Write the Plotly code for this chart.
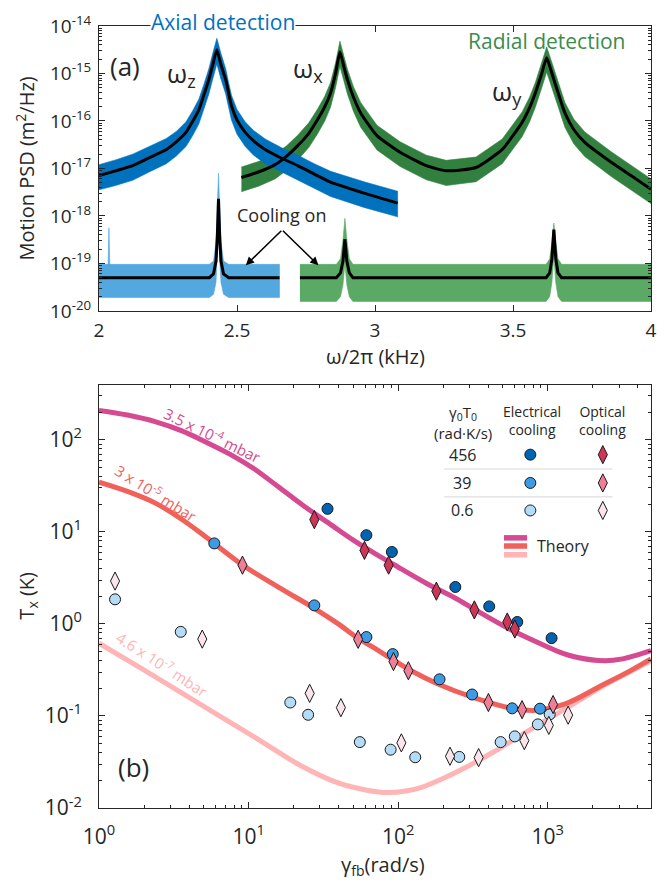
import plotly.graph_objects as go

FONT = "Open Sans"
INK = "#262626"

# ---------------- (a) spectra: frequency (kHz), values = log10 PSD (m^2/Hz) ----------------
axial_hot_f = [2.000, 2.060, 2.122, 2.180, 2.244, 2.280, 2.315, 2.340, 2.362, 2.380, 2.398, 2.412, 2.427,
               2.442, 2.459, 2.470, 2.480, 2.500, 2.530, 2.560, 2.602, 2.660, 2.720, 2.780, 2.839, 2.960, 3.082]
axial_hot_fit = [-17.15, -17.05, -16.94, -16.78, -16.60, -16.44, -16.24, -16.00, -15.76, -15.45, -15.13, -14.82, -14.50,
                 -14.82, -15.13, -15.42, -15.68, -15.98, -16.24, -16.42, -16.60, -16.78, -16.94, -17.12, -17.29, -17.52, -17.73]
axial_hot_up = [-16.92, -16.82, -16.70, -16.55, -16.37, -16.22, -16.02, -15.78, -15.54, -15.23, -14.90, -14.58, -14.26,
                -14.58, -14.90, -15.20, -15.46, -15.76, -16.02, -16.20, -16.38, -16.56, -16.72, -16.90, -17.06, -17.28, -17.48]
axial_hot_lo = [-17.45, -17.36, -17.25, -17.08, -16.90, -16.74, -16.54, -16.30, -16.06, -15.75, -15.43, -15.12, -14.80,
                -15.12, -15.43, -15.72, -15.98, -16.28, -16.54, -16.72, -16.90, -17.08, -17.24, -17.42, -17.59, -17.82, -18.02]

radial_hot_f = [2.516, 2.580, 2.638, 2.680, 2.720, 2.760, 2.792, 2.818, 2.839, 2.857, 2.873, 2.887, 2.900, 2.922,
                2.948, 3.007, 3.091, 3.186, 3.258, 3.366, 3.461, 3.533, 3.560, 3.581, 3.603, 3.622, 3.637, 3.652,
                3.688, 3.720, 3.760, 3.856, 3.930, 4.000]
radial_hot_fit = [-17.19, -17.07, -16.92, -16.74, -16.52, -16.26, -15.97, -15.70, -15.41, -15.00, -14.55, -14.85, -15.13,
                  -15.50, -15.83, -16.31, -16.66, -16.94, -17.05, -16.98, -16.60, -16.03, -15.72, -15.41, -15.02, -14.67,
                  -14.92, -15.20, -15.83, -16.18, -16.45, -16.87, -17.16, -17.44]
radial_hot_up = [-16.97, -16.85, -16.70, -16.52, -16.30, -16.04, -15.75, -15.48, -15.19, -14.78, -14.32, -14.62, -14.91,
                 -15.28, -15.61, -16.09, -16.44, -16.72, -16.83, -16.76, -16.38, -15.81, -15.50, -15.19, -14.80, -14.44,
                 -14.70, -14.98, -15.61, -15.96, -16.23, -16.65, -16.94, -17.22]
radial_hot_lo = [-17.49, -17.37, -17.22, -17.04, -16.82, -16.56, -16.27, -16.00, -15.71, -15.30, -14.85, -15.15, -15.43,
                 -15.80, -16.13, -16.61, -16.96, -17.24, -17.36, -17.28, -16.90, -16.33, -16.02, -15.71, -15.32, -14.97,
                 -15.22, -15.50, -16.13, -16.48, -16.75, -17.17, -17.46, -17.74]

axial_cool_f = [2.000, 2.033, 2.036, 2.039, 2.400, 2.415, 2.424, 2.429, 2.433, 2.437, 2.442, 2.451, 2.470, 2.654]
axial_cool_fit = [-19.30, -19.30, -19.30, -19.30, -19.30, -19.22, -18.95, -18.40, -17.64, -18.40, -18.95, -19.22, -19.30, -19.30]
axial_cool_up = [-19.02, -19.02, -18.25, -19.02, -19.02, -18.95, -18.55, -17.80, -17.10, -17.80, -18.55, -18.95, -19.02, -19.02]
axial_cool_lo = [-19.72, -19.72, -19.72, -19.72, -19.72, -19.65, -19.40, -18.90, -18.10, -18.90, -19.40, -19.65, -19.72, -19.72]

radial_cool_f = [2.728, 2.860, 2.875, 2.884, 2.891, 2.898, 2.907, 2.920, 3.620, 3.633, 3.641, 3.648, 3.655, 3.663, 3.676, 4.000]
radial_cool_fit = [-19.30, -19.30, -19.20, -18.95, -18.49, -18.95, -19.20, -19.30, -19.30, -19.20, -18.90, -18.29, -18.90, -19.20, -19.30, -19.30]
radial_cool_up = [-19.02, -19.02, -18.90, -18.50, -18.05, -18.50, -18.90, -19.02, -19.02, -18.90, -18.55, -18.15, -18.55, -18.90, -19.02, -19.02]
radial_cool_lo = [-19.80, -19.80, -19.70, -19.45, -19.00, -19.45, -19.70, -19.80, -19.80, -19.70, -19.40, -18.85, -19.40, -19.70, -19.80, -19.80]

# ---------------- (b) temperatures: gamma_fb (rad/s), T_x (K) ----------------
theory_hi_g = [1.0, 1.55, 2.40, 3.55, 5.13, 7.59, 11.0, 15.8, 23.4, 34.7, 50.1, 72.4, 93.3, 154.9, 240, 331, 562,
               1000, 1175, 1585, 2399, 3162, 3981, 4898]
theory_hi_T = [209, 186, 157, 126, 95.5, 69.2, 47.9, 30.9, 19.1, 12.3, 8.13, 5.62, 4.42, 2.75, 1.91, 1.41, 0.871,
               0.562, 0.501, 0.432, 0.398, 0.417, 0.462, 0.513]
theory_mid_g = [1.0, 1.55, 2.40, 3.55, 5.13, 9.12, 15.8, 27.5, 39.8, 53.2, 72.1, 92.9, 125.9, 182.8, 320.6, 562,
                832, 1306, 2291, 3548, 4898]
theory_mid_T = [34.7, 27.5, 20.4, 13.8, 8.91, 4.37, 2.51, 1.48, 1.0, 0.708, 0.525, 0.407, 0.302, 0.224, 0.158, 0.122,
                0.115, 0.135, 0.214, 0.309, 0.417]
theory_lo_g = [1.0, 2.03, 4.71, 10.96, 22.9, 40.1, 63.1, 84.5, 112.2, 146.9, 199.5, 281.8, 424.6, 631, 989,
               1585, 2512, 3548, 4898]
theory_lo_T = [0.617, 0.3105, 0.1355, 0.0589, 0.0282, 0.0186, 0.0155, 0.0147, 0.0153, 0.0170, 0.0209, 0.0275,
               0.0398, 0.0589, 0.0912, 0.1445, 0.2265, 0.302, 0.398]

elec_456_g = [33.7, 61.3, 90.7, 241, 406, 625, 1060]
elec_456_T = [17.8, 9.2, 6.05, 2.52, 1.55, 1.05, 0.70]
opt_456_g = [27.5, 59.5, 86.3, 180, 323, 536, 602]
opt_456_T = [13.6, 6.3, 4.35, 2.27, 1.42, 1.05, 0.88]
elec_39_g = [5.9, 27.5, 61.3, 92, 189, 312, 578, 887]
elec_39_T = [7.5, 1.59, 0.72, 0.47, 0.25, 0.171, 0.121, 0.12]
opt_39_g = [9.1, 54, 93, 117, 401, 673, 1085]
opt_39_T = [4.35, 0.68, 0.39, 0.31, 0.14, 0.117, 0.133]
elec_06_g = [1.28, 3.52, 19.0, 25.0, 55.4, 89, 130, 256, 484, 602, 858, 1030]
elec_06_T = [1.85, 0.82, 0.14, 0.103, 0.052, 0.043, 0.0356, 0.0359, 0.052, 0.060, 0.081, 0.104]
opt_06_g = [1.28, 4.9, 25.6, 41.4, 105, 222, 345, 697, 1016, 1368]
opt_06_T = [2.92, 0.684, 0.176, 0.123, 0.051, 0.0365, 0.0353, 0.054, 0.079, 0.102]

legend_rows = ["456", "39", "0.6"]

psd_ticks = [-20, -19, -18, -17, -16, -15, -14]
freq_ticks = [2, 2.5, 3, 3.5, 4]
freq_labels = ["2", "2.5", "3", "3.5", "4"]
gam_ticks = [0, 1, 2, 3]
temp_ticks = [-2, -1, 0, 1, 2]

# colours
C_AX_HOT = "#0072BD"
C_RA_HOT = "#32803F"
C_AX_COOL = "#52A8DF"
C_RA_COOL = "#5AAA66"
C_HI = "#D54A90"
C_MID = "#F0615C"
C_LO = "#FFB5B5"
E_COL = ["#0064B2", "#3D9BE5", "#B5DCF6"]
O_COL = ["#CE3658", "#EE7F97", "#FCE5EA"]

def p10(v):
    return [10 ** x for x in v]

fig = go.Figure()

def band(f, up, lo, color):
    fig.add_trace(go.Scatter(x=list(f) + list(f)[::-1], y=p10(up) + p10(lo)[::-1], fill="toself",
                             fillcolor=color, line=dict(width=0.6, color=color), mode="lines",
                             xaxis="x", yaxis="y", hoverinfo="skip"))

band(radial_hot_f, radial_hot_up, radial_hot_lo, C_RA_HOT)
band(axial_hot_f, axial_hot_up, axial_hot_lo, C_AX_HOT)
band(axial_cool_f, axial_cool_up, axial_cool_lo, C_AX_COOL)
band(radial_cool_f, radial_cool_up, radial_cool_lo, C_RA_COOL)
for f, v, sh in [(axial_hot_f, axial_hot_fit, "spline"), (radial_hot_f, radial_hot_fit, "spline"),
                 (axial_cool_f, axial_cool_fit, "linear"), (radial_cool_f, radial_cool_fit, "linear")]:
    fig.add_trace(go.Scatter(x=f, y=p10(v), mode="lines",
                             line=dict(color="black", width=3, shape=sh, smoothing=0.5),
                             xaxis="x", yaxis="y"))

# theory curves
for g, t, c in [(theory_lo_g, theory_lo_T, C_LO), (theory_mid_g, theory_mid_T, C_MID), (theory_hi_g, theory_hi_T, C_HI)]:
    fig.add_trace(go.Scatter(x=g, y=t, mode="lines", line=dict(color=c, width=5, shape="spline", smoothing=1.0),
                             xaxis="x2", yaxis="y2"))

def pts(g, t, sym, col, size):
    fig.add_trace(go.Scatter(x=g, y=t, mode="markers", xaxis="x2", yaxis="y2",
                             marker=dict(symbol=sym, color=col, size=size, line=dict(color="#1a1a1a", width=1))))

pts(elec_06_g, elec_06_T, "circle", E_COL[2], 11)
pts(opt_06_g, opt_06_T, "diamond-tall", O_COL[2], 13)
pts(elec_39_g, elec_39_T, "circle", E_COL[1], 11)
pts(opt_39_g, opt_39_T, "diamond-tall", O_COL[1], 13)
pts(elec_456_g, elec_456_T, "circle", E_COL[0], 11)
pts(opt_456_g, opt_456_T, "diamond-tall", O_COL[0], 13)

# legend markers on an overlay axis (fractions of panel b)
row_y = [0.8346, 0.7678, 0.7028]
fig.add_trace(go.Scatter(x=[0.7814] * 3, y=row_y, mode="markers", xaxis="x3", yaxis="y3",
                         marker=dict(symbol="circle", color=E_COL, size=11, line=dict(color="#1a1a1a", width=1))))
fig.add_trace(go.Scatter(x=[0.9127] * 3, y=row_y, mode="markers", xaxis="x3", yaxis="y3",
                         marker=dict(symbol="diamond-tall", color=O_COL, size=13, line=dict(color="#1a1a1a", width=1))))

def minor_vals(lo, hi):
    return [k * 10.0 ** n for n in range(lo, hi) for k in range(2, 10)]

axis_common = dict(showline=True, linecolor=INK, linewidth=1, mirror="ticks", ticks="inside",
                   tickcolor=INK, tickwidth=1, showgrid=False, zeroline=False)

fig.update_layout(
    width=668, height=886, margin=dict(l=99, r=11, t=23, b=78),
    paper_bgcolor="white", plot_bgcolor="white", showlegend=False,
    font=dict(family=FONT, color=INK),
    xaxis=dict(domain=[0, 1], anchor="y", range=[2, 4], tickvals=freq_ticks, ticktext=freq_labels,
               ticklen=6, tickfont=dict(size=19), ticklabelstandoff=2, **axis_common),
    yaxis=dict(domain=[0.6357, 1], anchor="x", type="log", range=[-20, -14],
               tickvals=[10.0 ** k for k in psd_ticks],
               ticktext=["10<sup>%d</sup>" % k for k in psd_ticks], ticklen=6,
               minor=dict(tickvals=minor_vals(-20, -14), ticks="inside", ticklen=3, tickcolor=INK),
               tickfont=dict(size=19), ticklabelstandoff=3, **axis_common),
    xaxis2=dict(domain=[0, 1], anchor="y2", type="log", range=[0, 3.69],
                tickvals=[10.0 ** k for k in gam_ticks], ticktext=["10<sup>%d</sup>" % k for k in gam_ticks],
                ticklen=6, minor=dict(tickvals=minor_vals(0, 4), ticks="inside", ticklen=3, tickcolor=INK),
                tickfont=dict(size=21), ticklabelstandoff=10, **axis_common),
    yaxis2=dict(domain=[0, 0.5414], anchor="x2", type="log", range=[-2, 2.6],
                tickvals=[10.0 ** k for k in temp_ticks], ticktext=["10<sup>%d</sup>" % k for k in temp_ticks],
                ticklen=6, minor=dict(tickvals=minor_vals(-2, 3), ticks="inside", ticklen=3, tickcolor=INK),
                tickfont=dict(size=21), ticklabelstandoff=12, **axis_common),
    xaxis3=dict(overlaying="x2", range=[0, 1], visible=False, fixedrange=True),
    yaxis3=dict(overlaying="y2", range=[0, 1], visible=False, fixedrange=True),
)

ann = []
def A(text, x, y, size, color=INK, xref="paper", yref="paper", **kw):
    ann.append(dict(text=text, x=x, y=y, xref=xref, yref=yref, showarrow=False,
                    xanchor="center", yanchor="middle",
                    font=dict(family=FONT, size=size, color=color), **kw))

# panel (a) texts
A("Axial detection", 0.224, 1.0051, 21, C_AX_HOT, bgcolor="white", borderpad=0)
A("Radial detection", 0.81, 0.981, 21, "#3C8C4C")
A("(a)", 0.0466, 0.949, 26)
A("ω<sub>z</sub>", 0.150, 0.939, 26)
A("ω<sub>x</sub>", 0.378, 0.945, 26)
A("ω<sub>y</sub>", 0.740, 0.916, 26)
A("Cooling on", 0.3315, 0.758, 18)
A("Motion PSD (m<sup>2</sup>/Hz)", -0.134, 0.8178, 20, textangle=-90)
A("ω/2π (kHz)", 0.5, 0.5770, 20)
for hx, axo in [(2.532, 37), (2.795, -37)]:
    ann.append(dict(x=hx, y=-19.04, xref="x", yref="y", ax=axo, ay=-36, axref="pixel", ayref="pixel",
                    showarrow=True, arrowhead=2, arrowsize=1.1, arrowwidth=1.5, arrowcolor="black", text=""))

# panel (b) texts
A("(b)", 0.0627, 0.0522, 26)
A("T<sub>x</sub> (K)", -0.129, 0.2713, 20, textangle=-90)
A("γ<sub>fb</sub>(rad/s)", 0.514, -0.0739, 20)
A("3.5 x 10<sup>-4</sup> mbar", 0.761, 2.054, 15, C_HI, xref="x2", yref="y2", textangle=26)
A("3 x 10<sup>-5</sup> mbar", 0.384, 1.427, 15, C_MID, xref="x2", yref="y2", textangle=32)
A("4.6 x 10<sup>-7</sup> mbar", 0.423, -0.432, 15, C_LO, xref="x2", yref="y2", textangle=33)

# legend table
A("γ<sub>0</sub>T<sub>0</sub>", 0.659, 0.9325, 15, xref="x3", yref="y3")
A("(rad·K/s)", 0.659, 0.8854, 15, xref="x3", yref="y3")
A("Electrical<br>cooling", 0.7844, 0.9141, 14, xref="x3", yref="y3")
A("Optical<br>cooling", 0.9127, 0.9141, 14, xref="x3", yref="y3")
for lab, yy in zip(legend_rows, row_y):
    A(lab, 0.6577, yy, 16, xref="x3", yref="y3")
A("Theory", 0.841, 0.6188, 16, xref="x3", yref="y3")
fig.update_layout(annotations=ann)

shapes = []
for yy in [0.8007, 0.7348]:
    shapes.append(dict(type="line", xref="x3", yref="y3", x0=0.6254, x1=0.9301, y0=yy, y1=yy,
                       line=dict(color="#D6D6D6", width=1)))
for yy, c in [(0.6381, C_HI), (0.6188, C_MID), (0.5981, C_LO)]:
    shapes.append(dict(type="line", xref="x3", yref="y3", x0=0.7337, x1=0.7756, y0=yy, y1=yy,
                       line=dict(color=c, width=5.5)))
fig.update_layout(shapes=shapes)

fig.write_html("out.html")
